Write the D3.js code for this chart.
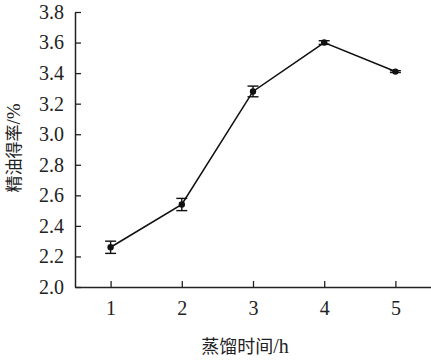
<!DOCTYPE html>
<html><head><meta charset="utf-8">
<script src="https://cdn.jsdelivr.net/npm/d3@7"></script>
<style>body{margin:0;background:#fff}svg{display:block}
.serif{font-family:"Liberation Serif","DejaVu Serif","Times New Roman",serif}
.cjk{font-family:"Noto Sans CJK SC",sans-serif}</style>
</head><body>
<svg id="c" width="431" height="361"></svg>
<script>
const hours = [1, 2, 3, 4, 5];
const yieldVals = [2.26, 2.54, 3.28, 3.60, 3.41];
const errVals = [0.04, 0.04, 0.035, 0.012, 0.006];
const yTicks = [2.0, 2.2, 2.4, 2.6, 2.8, 3.0, 3.2, 3.4, 3.6, 3.8];
const xLabel = ["蒸馏时间", "/h"];
const yLabel = ["精油得率", "/%"];

const svg = d3.select("#c");
const x = d3.scaleLinear().domain([0.5, 5.5]).range([75, 431]);
const y = d3.scaleLinear().domain([2.0, 3.8]).range([287, 12]);

const xAxis = svg.append("g").attr("transform", "translate(0,287)")
  .call(d3.axisBottom(x).tickValues(hours).tickSize(-6).tickSizeOuter(0).tickPadding(14).tickFormat(d3.format("d")));
const yAxis = svg.append("g").attr("transform", "translate(75,0)")
  .call(d3.axisLeft(y).tickValues(yTicks).tickSize(-6).tickSizeOuter(0).tickPadding(11).tickFormat(d3.format(".1f")));
[xAxis, yAxis].forEach(g => {
  g.attr("font-family", null).attr("font-size", null);
  g.select(".domain").attr("stroke", "#222").attr("stroke-width", 1.5);
  g.selectAll(".tick line").attr("stroke", "#222").attr("stroke-width", 1.3);
  g.selectAll("text").attr("class", "serif").style("font-size", "20px").attr("fill", "#222");
});

const data = hours.map((h, i) => ({h, v: yieldVals[i], e: errVals[i]}));
svg.append("path").datum(data)
  .attr("fill", "none").attr("stroke", "#111").attr("stroke-width", 1.6)
  .attr("d", d3.line().x(d => x(d.h)).y(d => y(d.v)));

const eb = svg.append("g").attr("stroke", "#111").attr("stroke-width", 1.4);
data.forEach(d => {
  eb.append("line").attr("x1", x(d.h)).attr("x2", x(d.h)).attr("y1", y(d.v - d.e)).attr("y2", y(d.v + d.e));
  [d.v - d.e, d.v + d.e].forEach(v => eb.append("line")
    .attr("x1", x(d.h) - 5.5).attr("x2", x(d.h) + 5.5).attr("y1", y(v)).attr("y2", y(v)));
});
svg.append("g").selectAll("circle").data(data).join("circle")
  .attr("cx", d => x(d.h)).attr("cy", d => y(d.v)).attr("r", 3.2).attr("fill", "#111");

const xl = svg.append("text").attr("x", (x(0.5) + x(5.5)) / 2 - 8).attr("y", 353)
  .attr("text-anchor", "middle").style("font-size", "18px").attr("fill", "#222");
xl.append("tspan").attr("class", "cjk").text(xLabel[0]);
xl.append("tspan").attr("class", "serif").style("font-size", "20px").text(xLabel[1]);
const yl = svg.append("text").attr("transform", "translate(20,148) rotate(-90)")
  .attr("text-anchor", "middle").style("font-size", "17px").attr("fill", "#222");
yl.append("tspan").attr("class", "cjk").text(yLabel[0]);
yl.append("tspan").attr("class", "serif").style("font-size", "19px").text(yLabel[1]);
</script>
</body></html>
